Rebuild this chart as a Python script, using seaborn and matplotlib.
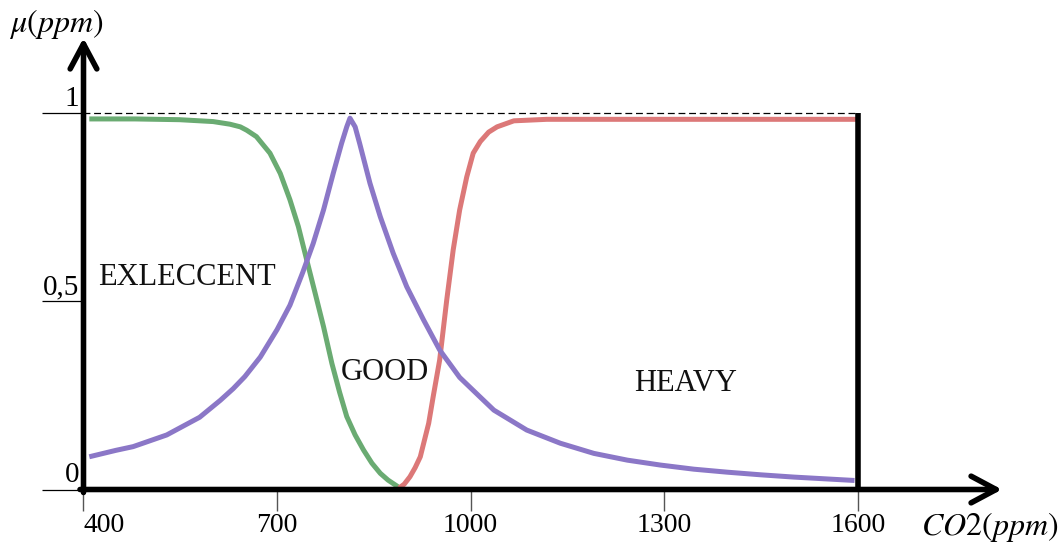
import matplotlib
matplotlib.use("Agg")
import matplotlib.pyplot as plt
import seaborn as sns
import pandas as pd

# ---------------- data ----------------
green_x = [409, 480, 549, 601, 627, 643, 653, 668, 678, 689, 705, 720, 733, 746, 759, 772,
           785, 797, 808, 821, 834, 847, 860, 872, 886, 889]
green_y = [0.985, 0.985, 0.983, 0.978, 0.971, 0.964, 0.955, 0.938, 0.917, 0.894, 0.840, 0.770,
           0.699, 0.610, 0.522, 0.433, 0.335, 0.258, 0.194, 0.145, 0.105, 0.070, 0.043, 0.025,
           0.009, 0.004]

purple_x = [409, 450, 477, 529, 580, 612, 632, 650, 674, 700, 720, 740, 756, 772, 787, 800, 808,
            813, 821, 828, 844, 860, 880, 901, 927, 952, 983, 1014, 1036, 1087, 1139, 1191, 1243,
            1294, 1346, 1398, 1450, 1501, 1553, 1595]
purple_y = [0.087, 0.104, 0.114, 0.145, 0.192, 0.237, 0.268, 0.300, 0.352, 0.425, 0.490, 0.578,
            0.654, 0.743, 0.840, 0.920, 0.964, 0.987, 0.964, 0.920, 0.814, 0.725, 0.628, 0.539,
            0.451, 0.371, 0.298, 0.247, 0.211, 0.158, 0.123, 0.096, 0.078, 0.065, 0.054, 0.046,
            0.039, 0.033, 0.028, 0.024]

red_x = [889, 897, 906, 914, 922, 935, 942, 952, 963, 973, 983, 994, 1004, 1015, 1028, 1041,
         1067, 1118, 1600]
red_y = [0.004, 0.014, 0.034, 0.058, 0.087, 0.176, 0.247, 0.344, 0.504, 0.637, 0.743, 0.831,
         0.894, 0.925, 0.950, 0.964, 0.980, 0.984, 0.984]

x_ticks = [400, 700, 1000, 1300, 1600]
x_tick_labels = ["400", "700", "1000", "1300", "1600"]
y_ticks = [0, 0.5, 1]
y_tick_labels = ["0", "0,5", "1"]

region_labels = ["EXLECCENT", "GOOD", "HEAVY"]
region_x = [422.5, 867.3, 1333.8]
region_y = [0.5436, 0.291, 0.2618]
region_ha = ["left", "center", "center"]

x_label = r"$CO2(ppm)$"
y_label = r"$\mu(ppm)$"

GREEN = "#6aab72"
PURPLE = "#8b77c7"
RED = "#dc7878"

# ---------------- style ----------------
sns.set_theme(style="white")
plt.rcParams["font.family"] = ["Liberation Serif", "DejaVu Serif"]
plt.rcParams["mathtext.fontset"] = "stix"

fig = plt.figure(figsize=(10.64, 5.48), dpi=100)
ax = fig.add_axes([0, 0, 1, 1])
ax.set_facecolor("white")

# pixel-to-data layout of the drawing area
PX_X0, SX = 83.5, 0.6452     # px of x=400, px per unit
PX_Y0, SY = 489.5, 376.2     # px of y=0, px per unit
ax.set_xlim(400 - PX_X0 / SX, 400 + (1064 - PX_X0) / SX)
ax.set_ylim(-(548 - PX_Y0) / SY, PX_Y0 / SY)

for s in ax.spines.values():
    s.set_visible(False)
ax.spines["bottom"].set_position(("data", 0))

# ---------------- curves ----------------
for xs, ys, c in [(green_x, green_y, GREEN), (red_x, red_y, RED), (purple_x, purple_y, PURPLE)]:
    df = pd.DataFrame({"x": xs, "y": ys})
    sns.lineplot(data=df, x="x", y="y", color=c, linewidth=3.6, ax=ax,
                 estimator=None, sort=False, solid_capstyle="butt", solid_joinstyle="round")

# dashed line at 1 and vertical boundary at 1600
ax.hlines(y_ticks[-1], x_ticks[0], x_ticks[-1], colors="black", linewidth=0.9,
          linestyles=(0, (5.5, 3.0)))
ax.vlines(x_ticks[-1], y_ticks[0], y_ticks[-1], colors="black", linewidth=4.0)

# y tick marks (thin lines to the left of the axis) and labels
x_left_tick = 400 - (PX_X0 - 42) / SX
ax.hlines(y_ticks, x_left_tick, x_ticks[0], colors="black", linewidth=0.9)
x_ylab = 400 - (PX_X0 - 79) / SX
for v, lab in zip(y_ticks, y_tick_labels):
    ax.text(x_ylab, v + 7 / SY, lab, ha="right", va="baseline", fontsize=21, color="black")

# axes with arrows
y_tip = (PX_Y0 - 38) / SY
x_tip = 400 + (1002 - PX_X0) / SX
arrow_kw = dict(arrowstyle="->,head_length=0.9,head_width=0.48", lw=4.0, color="black",
                shrinkA=0, shrinkB=0, mutation_scale=20)
ax.annotate("", xy=(x_ticks[0], y_tip), xytext=(x_ticks[0], -3 / SY),
            arrowprops=arrow_kw, annotation_clip=False)
ax.annotate("", xy=(x_tip, 0), xytext=(400 - 3.5 / SX, 0),
            arrowprops=arrow_kw, annotation_clip=False)

# x ticks via the axis
ax.set_xticks(x_ticks, labels=x_tick_labels)
ax.set_yticks([])
ax.tick_params(axis="x", bottom=True, direction="out", length=15, width=1.0,
               color="#555555", pad=2, labelsize=20, labelcolor="black")
ax.xaxis.get_major_ticks()[0].label1.set_horizontalalignment("left")
ax.set_xlabel("")
ax.set_ylabel("")

# region labels
for lab, xx, yy, ha in zip(region_labels, region_x, region_y, region_ha):
    ax.text(xx, yy, lab, ha=ha, va="baseline", fontsize=22, color="#111111")

# axis titles
ax.text(400 + (56.5 - PX_X0) / SX, (PX_Y0 - 24) / SY, y_label, ha="center", va="center",
        fontsize=23, color="black")
ax.text(400 + (990 - PX_X0) / SX, -(527.5 - PX_Y0) / SY, x_label, ha="center", va="center",
        fontsize=23, color="black")

fig.savefig("out.png", dpi=100, facecolor="white")
